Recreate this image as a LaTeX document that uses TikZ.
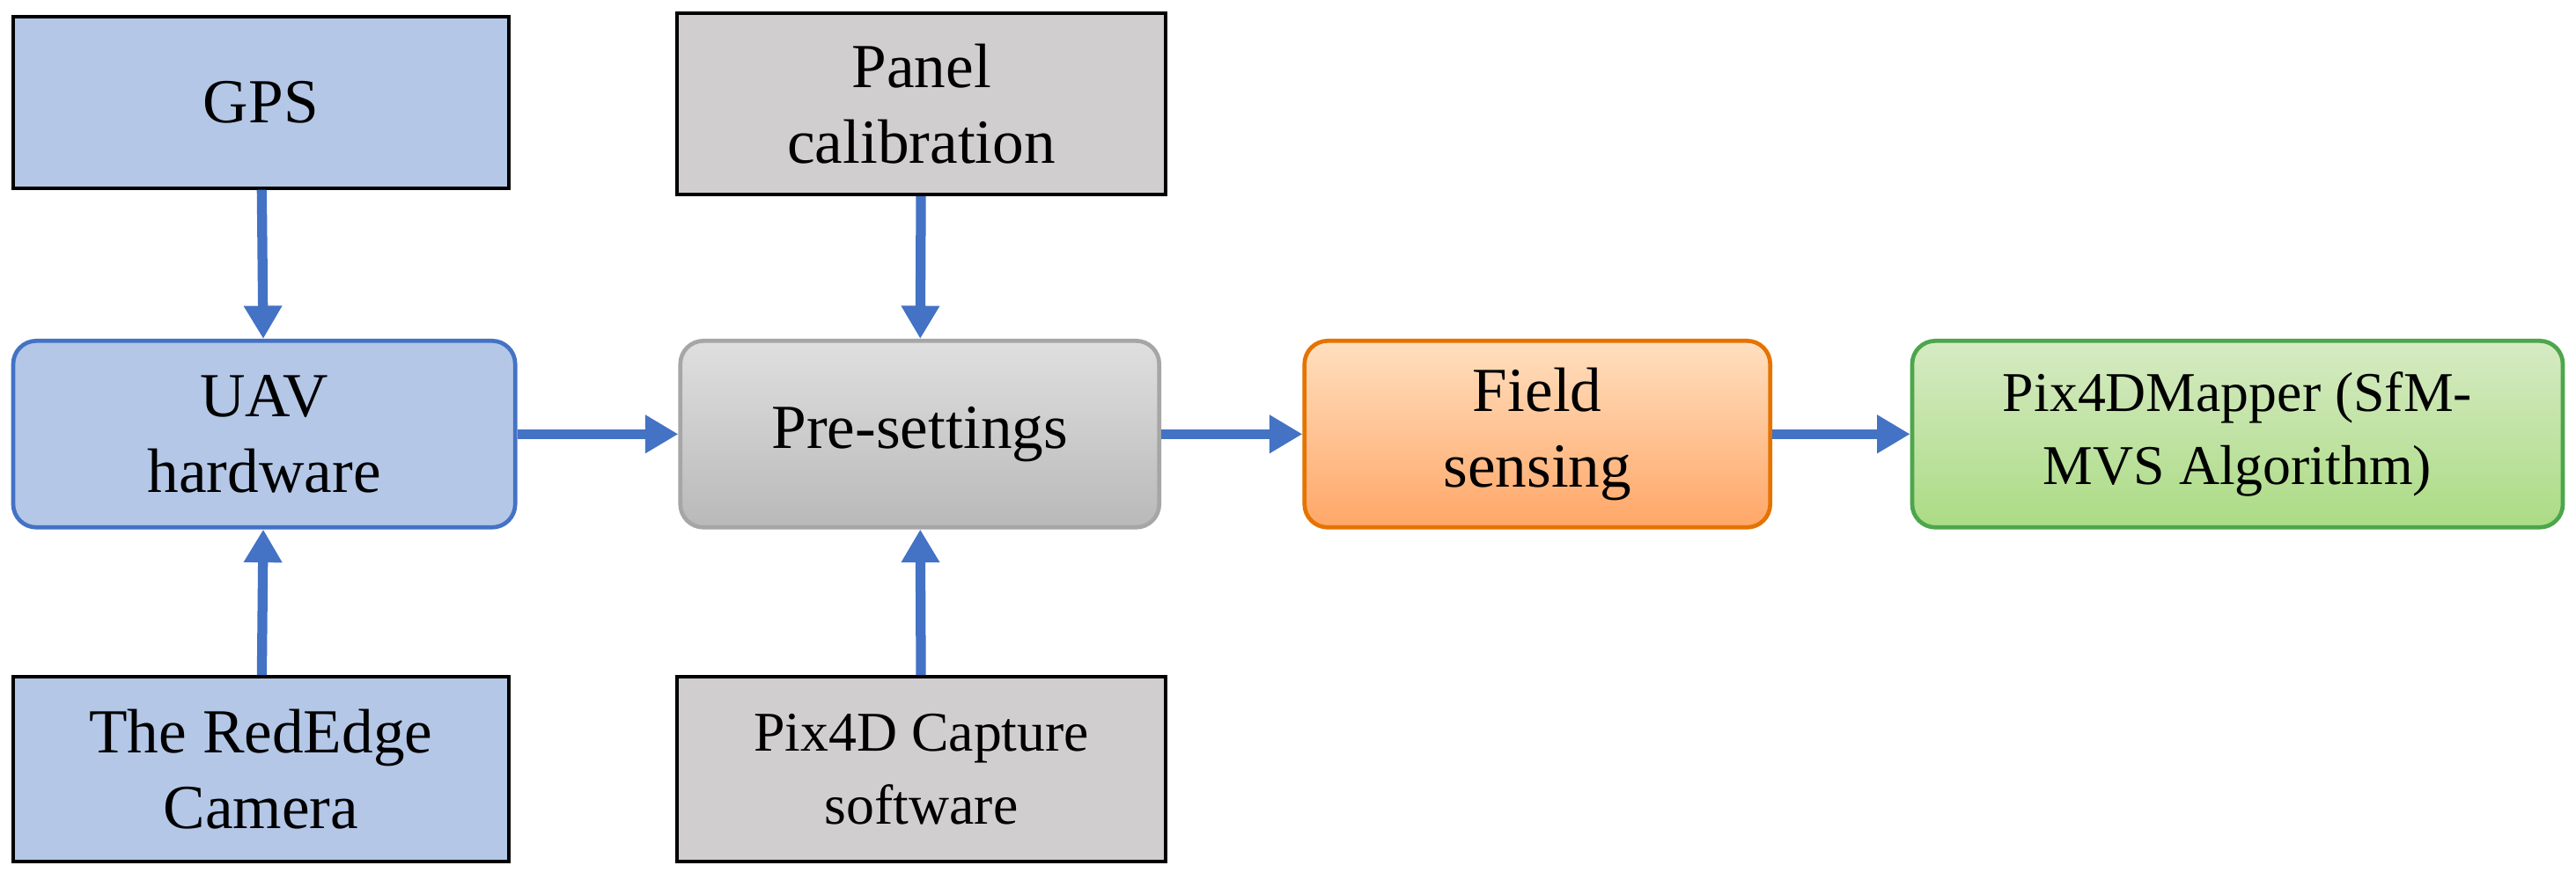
\documentclass[tikz,border=0pt]{standalone}
\usepackage{fontspec}
\setmainfont{Liberation Serif}
\usetikzlibrary{arrows.meta}
\definecolor{bl}{HTML}{B4C7E7}
\definecolor{ab}{HTML}{4472C4}
\definecolor{gr}{HTML}{D0CECE}
\begin{document}
\begin{tikzpicture}[x=1pt,y=-1pt,
 box/.style={draw=black,line width=2pt,minimum width=#1,align=center,font=\fontsize{38}{46}\selectfont,inner sep=0pt},
 sq/.style={box=300pt,minimum height=104pt},
 rd/.style={box=#1,minimum height=113pt,rounded corners=14pt,line width=2.5pt},
 arr/.style={draw=ab,line width=6pt,-{Triangle[length=20pt,width=22pt]}}]
\useasboundingbox (0,0) rectangle (1560,533);
\node[sq,fill=bl] (gps) at (158,62) {GPS};
\node[rd=304pt,fill=bl,draw=ab] (uav) at (160,263) {UAV\\hardware};
\node[sq,fill=bl,minimum height=112pt] (cam) at (158,466) {The RedEdge\\Camera};
\node[sq,fill=gr,minimum width=296pt,minimum height=110pt] (pan) at (558,63) {Panel\\calibration};
\node[rd=290pt,top color=gray!25,bottom color=gray!55,draw=gray!70] (pre) at (557,263) {Pre-settings};
\node[sq,fill=gr,minimum width=296pt,minimum height=112pt,font=\fontsize{34}{44}\selectfont] (cap) at (558,466) {Pix4D Capture\\software};
\node[rd=282pt,top color=orange!25!white,bottom color=orange!55!white!90!red,draw=orange!90!black] (fs) at (931,263) {Field\\sensing};
\node[rd=394pt,top color=green!40!black!15!white!90!lime,bottom color=green!50!black!35!white!80!lime,draw=green!50!black!70!white,font=\fontsize{34}{44}\selectfont] (pm) at (1355,263) {Pix4DMapper (SfM-\\MVS Algorithm)};
\draw[arr] (gps) -- (uav);
\draw[arr] (cam) -- (uav);
\draw[arr] (pan) -- (pre);
\draw[arr] (cap) -- (pre);
\draw[arr] (uav) -- (pre);
\draw[arr] (pre) -- (fs);
\draw[arr] (fs) -- (pm);
\end{tikzpicture}
\end{document}
